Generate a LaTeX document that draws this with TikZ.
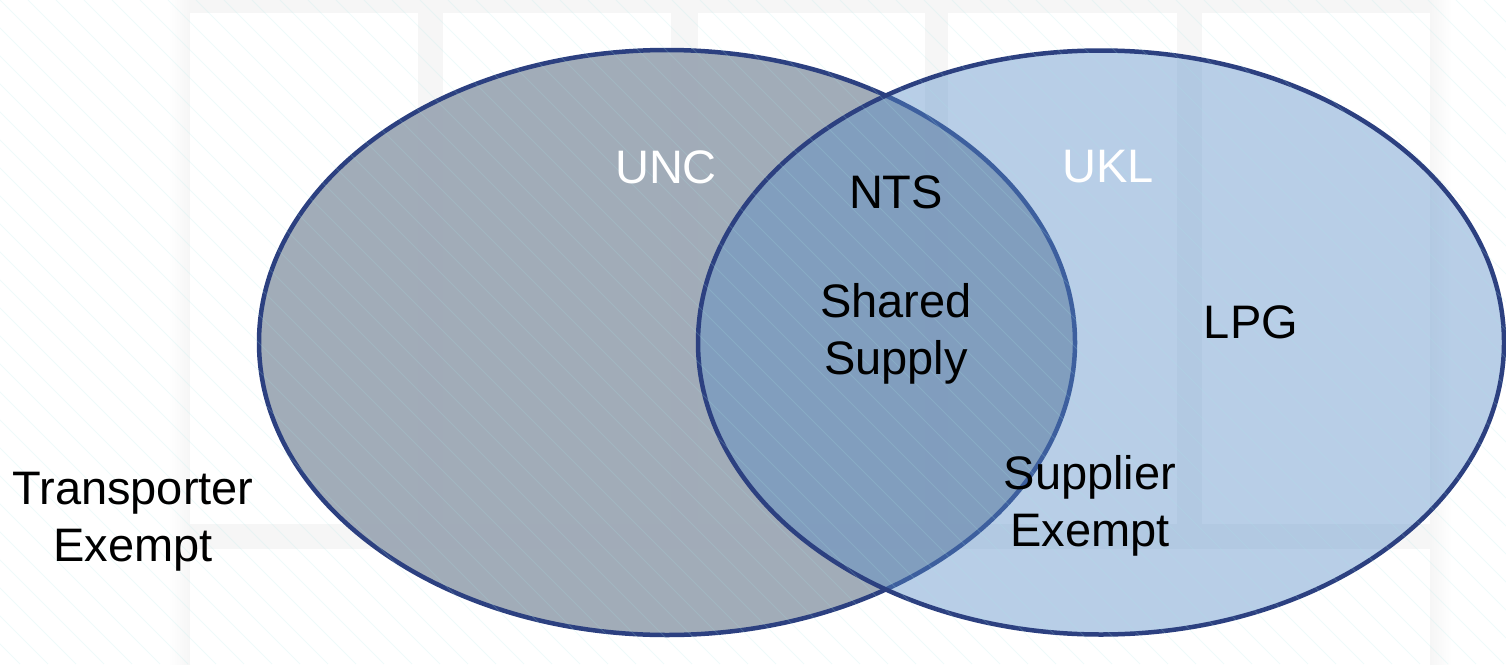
\documentclass[tikz,border=0pt]{standalone}
\usepackage{fontspec}
\setmainfont{Liberation Sans}
\usetikzlibrary{shapes.geometric}
\definecolor{bggrey}{RGB}{246,246,246}
\definecolor{uncfill}{RGB}{154,165,179}
\definecolor{uklfill}{RGB}{86,140,200}
\definecolor{navy}{RGB}{44,64,128}
\definecolor{hatchc}{RGB}{170,232,232}
\begin{document}
\begin{tikzpicture}[x=1pt,y=-1pt,
  setshape/.style={ellipse, draw=navy, line width=4.5pt, inner sep=0pt},
  lbl/.style={font=\fontsize{47}{57}\selectfont, inner sep=0pt, align=center},
  panel/.style={fill=white},
  hatch/.style={draw=hatchc, draw opacity=0.18, line width=1pt}]
\useasboundingbox (0,0) rectangle (1506,664);
% background panels
\fill[white] (0,0) rectangle (1506,664);
\shade[left color=white, right color=bggrey] (168,0) rectangle (190,664);
\fill[bggrey] (190,0) rectangle (1430,664);
\shade[left color=bggrey, right color=white] (1430,0) rectangle (1452,664);
\fill[panel] (190,13) rectangle (418,524);
\fill[panel] (443,13) rectangle (671,524);
\fill[panel] (698,13) rectangle (925,524);
\fill[panel] (948,13) rectangle (1177,524);
\fill[panel] (1202,13) rectangle (1430,524);
\fill[panel] (190,549) rectangle (1430,664);
% sets
\node[setshape, fill=uncfill, fill opacity=0.92, minimum width=816pt, minimum height=585pt] (unc) at (667,342.5) {};
\node[setshape, fill=uklfill, fill opacity=0.42, minimum width=806pt, minimum height=584pt] (ukl) at (1101,342.5) {};
% faint hatching
\begin{scope}
\clip (0,0) rectangle (1506,664);
\foreach \i in {-672,-644,...,1506} \draw[hatch] (\i,0) -- ++(664,664);
\end{scope}
% labels
\node[lbl, text=white] (uncl) at (666,167) {UNC};
\node[lbl] (nts) at (896,192) {NTS};
\node[lbl, text=white] (ukll) at (1108,167) {UKL};
\node[lbl] (shared) at (896,333.5) {Shared\\Supply};
\node[lbl] (lpg) at (1251,322) {LPG};
\node[lbl] (supex) at (1090,506) {Supplier\\Exempt};
\node[lbl] (trex) at (133,521.5) {Transporter\\Exempt};
\end{tikzpicture}
\end{document}
